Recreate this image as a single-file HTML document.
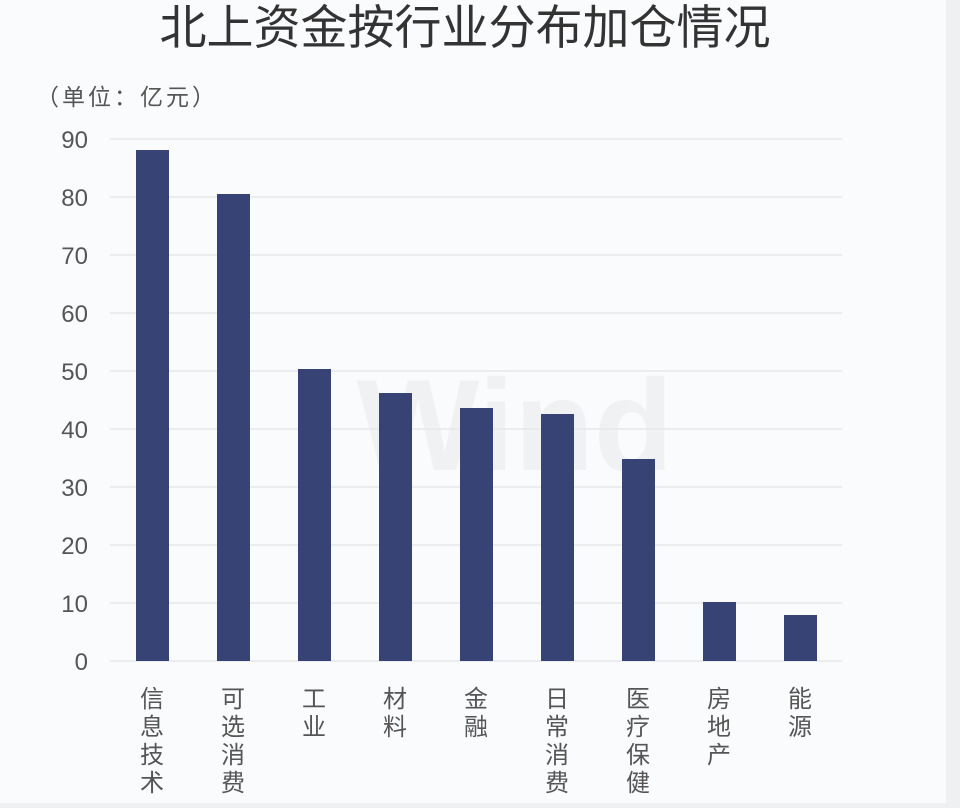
<!DOCTYPE html>
<html><head><meta charset="utf-8"><style>
body{margin:0;width:960px;height:803px;overflow:hidden;background:#eef0f2;font-family:"Liberation Sans","Noto Sans CJK SC",sans-serif}
#p{position:absolute;left:0;top:0;width:946px;height:803px;background:#f9fbfd}
</style></head><body><div id="p">
<svg width="946" height="803" xmlns="http://www.w3.org/2000/svg" font-family="Liberation Sans, Noto Sans CJK SC, sans-serif">
<text x="465" y="44" font-size="47" fill="#333" text-anchor="middle">北上资金按行业分布加仓情况</text>
<text x="36" y="105" font-size="23" fill="#555" letter-spacing="3">（单位：亿元）</text>
<text x="515" y="470" font-size="130" font-weight="bold" fill="#f0f1f3" text-anchor="middle">Wind</text>
<g stroke="#e6e8eb" stroke-width="1.5">
<line x1="110" x2="842" y1="139" y2="139"/><line x1="110" x2="842" y1="197" y2="197"/><line x1="110" x2="842" y1="255" y2="255"/><line x1="110" x2="842" y1="313" y2="313"/><line x1="110" x2="842" y1="371" y2="371"/><line x1="110" x2="842" y1="429" y2="429"/><line x1="110" x2="842" y1="487" y2="487"/><line x1="110" x2="842" y1="545" y2="545"/><line x1="110" x2="842" y1="603" y2="603"/><line x1="110" x2="842" y1="661" y2="661"/>
</g>
<g font-size="24" fill="#555" text-anchor="end">
<text x="88" y="148">90</text><text x="88" y="206">80</text><text x="88" y="264">70</text><text x="88" y="322">60</text><text x="88" y="380">50</text><text x="88" y="438">40</text><text x="88" y="496">30</text><text x="88" y="554">20</text><text x="88" y="612">10</text><text x="88" y="670">0</text>
</g>
<g fill="#374375">
<rect x="136" y="150" width="33" height="511"/>
<rect x="217" y="194" width="33" height="467"/>
<rect x="298" y="369" width="33" height="292"/>
<rect x="379" y="393" width="33" height="268"/>
<rect x="460" y="408" width="33" height="253"/>
<rect x="541" y="414" width="33" height="247"/>
<rect x="622" y="459" width="33" height="202"/>
<rect x="703" y="602" width="33" height="59"/>
<rect x="784" y="615" width="33" height="46"/>
</g>
<g font-size="24" fill="#555" text-anchor="middle">
<text x="152" y="707">信</text><text x="152" y="735">息</text><text x="152" y="763">技</text><text x="152" y="791">术</text>
<text x="233" y="707">可</text><text x="233" y="735">选</text><text x="233" y="763">消</text><text x="233" y="791">费</text>
<text x="314" y="707">工</text><text x="314" y="735">业</text>
<text x="395" y="707">材</text><text x="395" y="735">料</text>
<text x="476" y="707">金</text><text x="476" y="735">融</text>
<text x="557" y="707">日</text><text x="557" y="735">常</text><text x="557" y="763">消</text><text x="557" y="791">费</text>
<text x="638" y="707">医</text><text x="638" y="735">疗</text><text x="638" y="763">保</text><text x="638" y="791">健</text>
<text x="719" y="707">房</text><text x="719" y="735">地</text><text x="719" y="763">产</text>
<text x="800" y="707">能</text><text x="800" y="735">源</text>
</g>
</svg></div></body></html>
